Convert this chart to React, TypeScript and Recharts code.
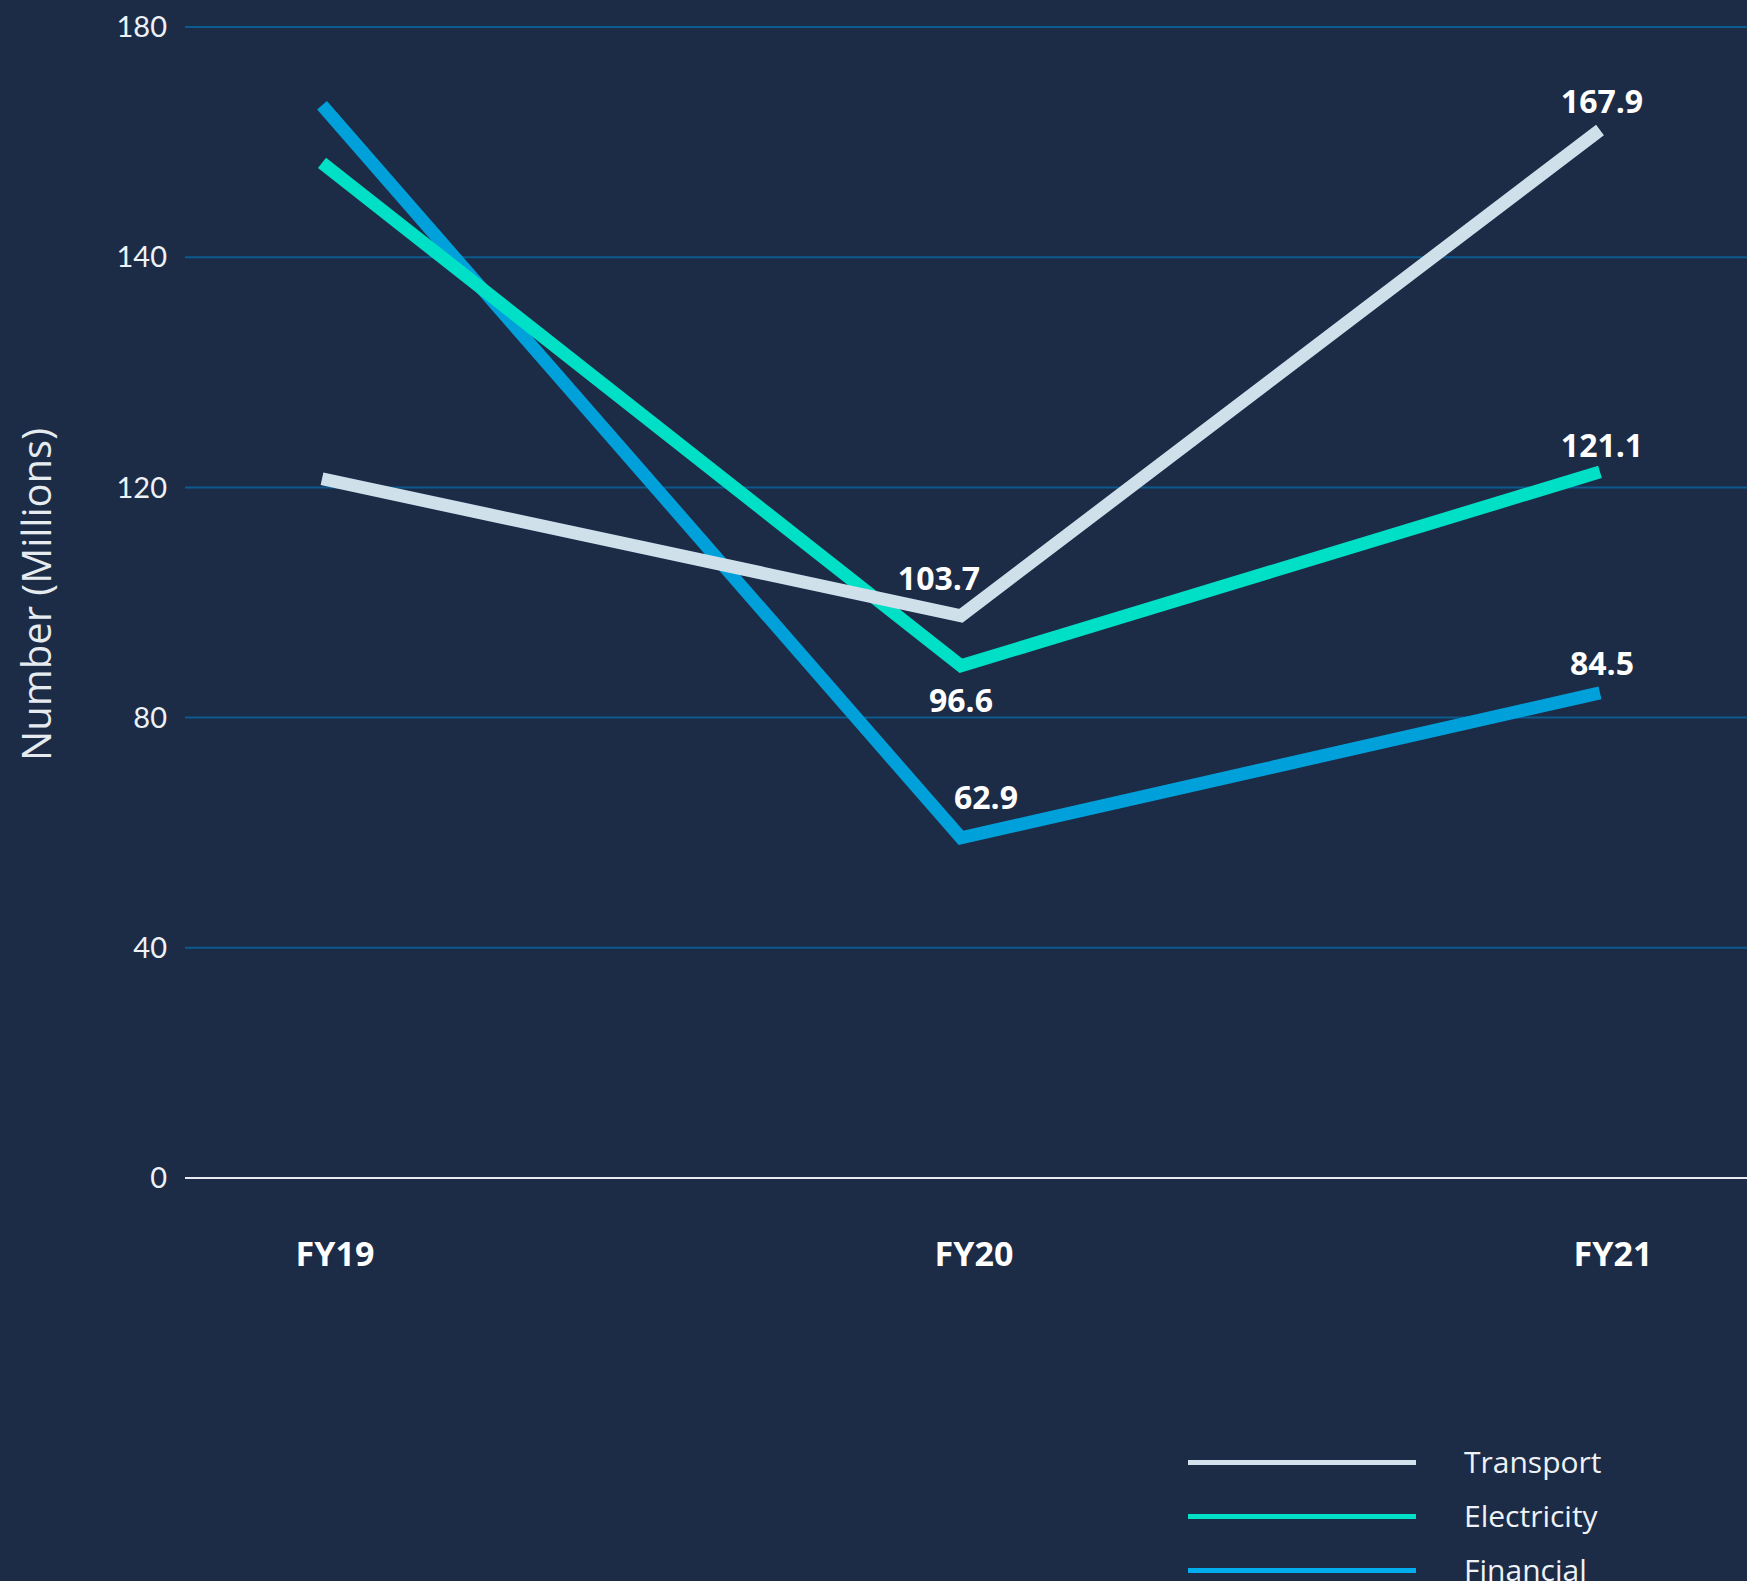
import React from 'react';
import { LineChart, Line, XAxis, YAxis, CartesianGrid, LabelList } from 'recharts';

// ---- data (in the plot's grid units) ----
const categories = ['FY19', 'FY20', 'FY21'];
const transport = [121.5, 97.7, 182.1];
const electricity = [176.4, 89.0, 122.7];
const financial = [186.4, 59.1, 84.3];

// printed value labels
const transportLabels = ['', '103.7', '167.9'];
const electricityLabels = ['', '96.6', '121.1'];
const financialLabels = ['', '62.9', '84.5'];

// y tick positions and the labels printed on them
const yTicks = [0, 40, 80, 120, 160, 200];
const yTickLabels = ['0', '40', '80', '120', '140', '180'];

const seriesNames = ['Transport', 'Electricity', 'Financial'];

const W = 1747;
const H = 1581;
const BG = '#1c2b46';

const colors: Record<string, string> = {
  Transport: '#cfe0eb',
  Electricity: '#00e0c6',
  Financial: '#00a0da',
};
const legendColors: Record<string, string> = {
  Transport: '#d3e2ec',
  Electricity: '#00e0c6',
  Financial: '#00aeef',
};

// label offsets relative to the point (styling only)
const labelOffsets: Record<string, { dx: number; dy: number }[]> = {
  Transport: [{ dx: 0, dy: 0 }, { dx: -22, dy: -38 }, { dx: 2, dy: -30 }],
  Electricity: [{ dx: 0, dy: 0 }, { dx: 0, dy: 34 }, { dx: 2, dy: -27 }],
  Financial: [{ dx: 0, dy: 0 }, { dx: 25, dy: -41 }, { dx: 2, dy: -30 }],
};

const data = categories.map((c, i) => ({
  name: c,
  Transport: transport[i],
  Electricity: electricity[i],
  Financial: financial[i],
}));

const labelTexts: Record<string, string[]> = {
  Transport: transportLabels,
  Electricity: electricityLabels,
  Financial: financialLabels,
};

const makeLabel = (series: string) => (props: any) => {
  const { x, y, index } = props;
  const t = labelTexts[series][index];
  if (!t) return null;
  const off = labelOffsets[series][index];
  return (
    <text
      x={x + off.dx}
      y={y + off.dy}
      textAnchor="middle"
      dominantBaseline="central"
      fill="#ffffff"
      fontFamily="'Open Sans', sans-serif"
      fontWeight={700}
      fontSize={32}
    >
      {t}
    </text>
  );
};

const XTick = (props: any) => {
  const { x, y, payload } = props;
  return (
    <text
      x={x + 13}
      y={y + 75}
      textAnchor="middle"
      dominantBaseline="central"
      fill="#ffffff"
      fontFamily="'Open Sans', sans-serif"
      fontWeight={700}
      fontSize={34}
    >
      {payload.value}
    </text>
  );
};

const YTitle = (props: any) => {
  const vb = props.viewBox || { y: 27, height: 1151 };
  const cx = 35;
  const cy = vb.y + vb.height / 2 - 8;
  return (
    <text
      x={cx}
      y={cy}
      transform={`rotate(-90, ${cx}, ${cy})`}
      textAnchor="middle"
      dominantBaseline="central"
      fill="#e6ebf0"
      fontFamily="'Open Sans', sans-serif"
      fontWeight={400}
      fontSize={40}
    >
      Number (Millions)
    </text>
  );
};

const drawOrder = ['Financial', 'Electricity', 'Transport'];

export default function App() {
  return (
    <div
      style={{
        position: 'absolute',
        left: 0,
        top: 0,
        width: W,
        height: H,
        background: BG,
        overflow: 'hidden',
      }}
    >
      <LineChart
        width={W}
        height={H}
        data={data}
        margin={{ top: 27, right: 0, bottom: 0, left: 0 }}
      >
        <CartesianGrid horizontal vertical={false} stroke="#0b5b8f" strokeWidth={2} />
        <XAxis
          dataKey="name"
          type="category"
          height={403}
          padding={{ left: 137, right: 147 }}
          axisLine={{ stroke: '#e8ecf1', strokeWidth: 2 }}
          tickLine={false}
          tickSize={0}
          tickMargin={0}
          tick={<XTick />}
          interval={0}
        />
        <YAxis
          type="number"
          domain={[0, 200]}
          ticks={yTicks}
          width={185}
          axisLine={false}
          tickLine={false}
          tickSize={0}
          tickMargin={18}
          tickFormatter={(v: number) => yTickLabels[yTicks.indexOf(v)] ?? String(v)}
          tick={{
            fill: '#eef2f6',
            fontSize: 29,
            fontFamily: 'Lato, sans-serif',
            fontWeight: 400,
          }}
          label={<YTitle />}
        />
        {drawOrder.map((s) => (
          <Line
            key={s}
            type="linear"
            dataKey={s}
            stroke={colors[s]}
            strokeWidth={13}
            dot={false}
            activeDot={false}
            strokeLinejoin="miter"
            strokeLinecap="butt"
            isAnimationActive={false}
          >
            <LabelList dataKey={s} content={makeLabel(s)} />
          </Line>
        ))}
      </LineChart>
      {seriesNames.map((s, i) => (
        <div
          key={s}
          style={{
            position: 'absolute',
            left: 1188,
            top: 1462 + i * 54 - 20,
            height: 40,
            display: 'flex',
            alignItems: 'center',
          }}
        >
          <div style={{ width: 228, height: 5, background: legendColors[s] }} />
          <div
            style={{
              marginLeft: 48,
              color: '#eef2f6',
              fontFamily: "'Open Sans', sans-serif",
              fontSize: 30,
              lineHeight: '40px',
            }}
          >
            {s}
          </div>
        </div>
      ))}
    </div>
  );
}
